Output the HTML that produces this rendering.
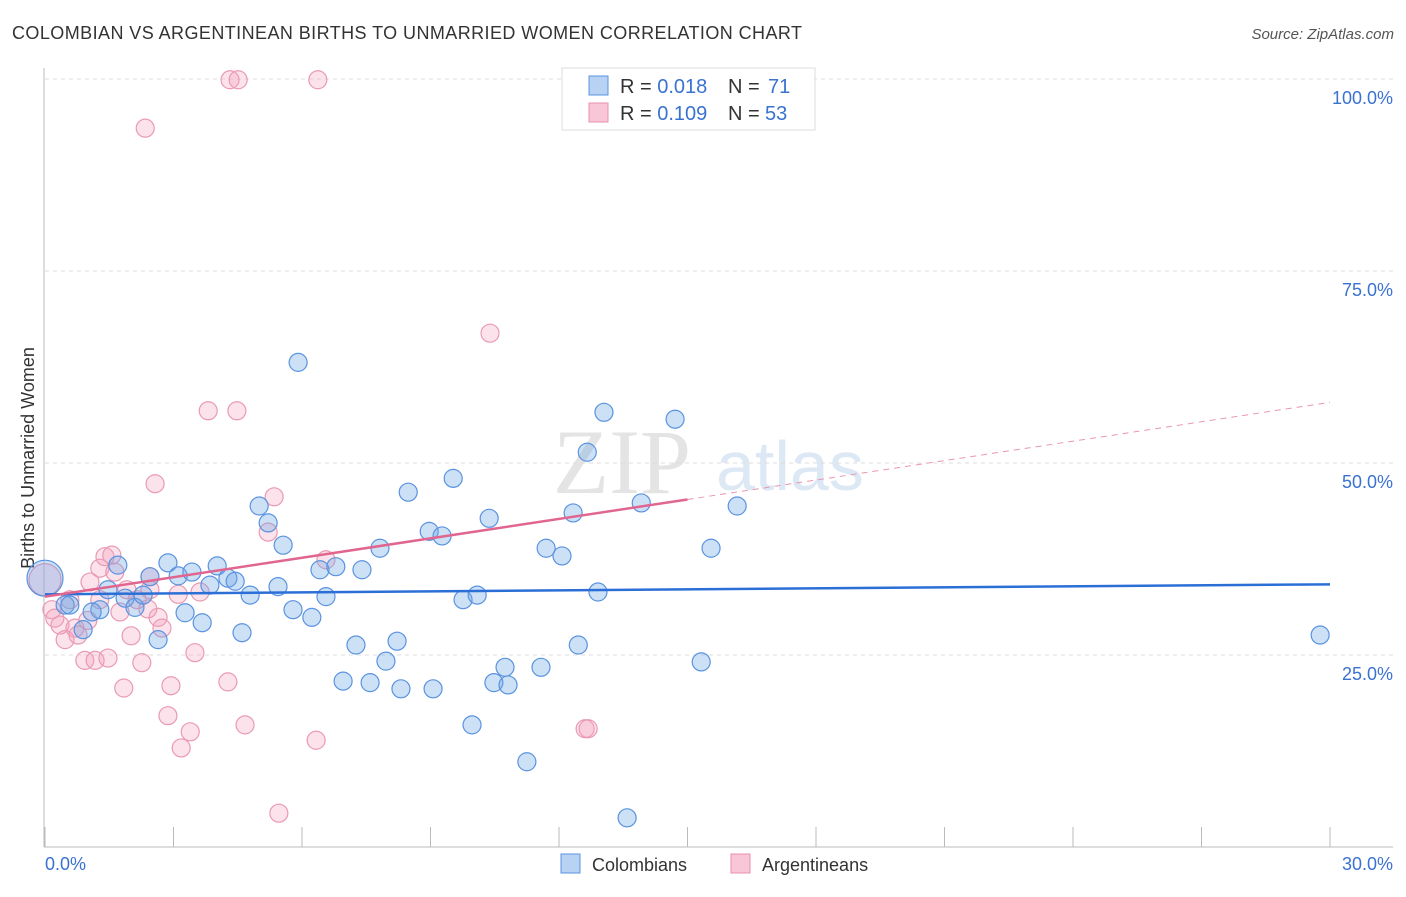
<!DOCTYPE html>
<html><head><meta charset="utf-8"><style>
body{margin:0;background:#fff;font-family:"Liberation Sans",sans-serif;}
</style></head><body>
<svg width="1406" height="892" xmlns="http://www.w3.org/2000/svg">
<text x="12" y="39" font-size="18" fill="#333" textLength="790">COLOMBIAN VS ARGENTINEAN BIRTHS TO UNMARRIED WOMEN CORRELATION CHART</text>
<text x="1394" y="39" font-size="15" fill="#555" text-anchor="end" font-style="italic">Source: ZipAtlas.com</text>
<text x="553" y="493" font-size="92" fill="#e4e4e4" font-family="Liberation Serif,serif">ZIP</text>
<text x="716" y="490" font-size="70" fill="#dde8f5">atlas</text>
<g id="grid"></g>
<line x1="44" y1="68" x2="44" y2="847" stroke="#bbb"/>
<line x1="44" y1="847" x2="1393" y2="847" stroke="#bbb"/>
<text transform="translate(34,458) rotate(-90)" font-size="18" fill="#333" text-anchor="middle">Births to Unmarried Women</text>
<text x="45" y="870" font-size="18" fill="#3a72d0">0.0%</text>
<text x="1393" y="870" font-size="18" fill="#3a72d0" text-anchor="end">30.0%</text>
<g id="pts"></g>
<g id="lines"></g>
<g>
<rect x="562" y="68" width="253" height="62" fill="#fff" stroke="#ddd"/>
<rect x="589" y="76" width="19" height="19" fill="#b8d2f3" stroke="#5a93e0"/>
<rect x="589" y="103" width="19" height="19" fill="#f8c6d6" stroke="#e890ab"/>
<text x="620" y="93" font-size="20" fill="#333">R = <tspan fill="#3a72d0">0.018</tspan></text>
<text x="728" y="93" font-size="20" fill="#333">N = </text>
<text x="768" y="93" font-size="20" fill="#3a72d0">71</text>
<text x="620" y="120" font-size="20" fill="#333">R = <tspan fill="#3a72d0">0.109</tspan></text>
<text x="728" y="120" font-size="20" fill="#333">N = </text>
<text x="765" y="120" font-size="20" fill="#3a72d0">53</text>
</g>
<g>
<rect x="561" y="854" width="19" height="19" fill="#b8d2f3" stroke="#5a93e0"/>
<text x="592" y="871" font-size="18" fill="#333">Colombians</text>
<rect x="731" y="854" width="19" height="19" fill="#f8c6d6" stroke="#e890ab"/>
<text x="762" y="871" font-size="18" fill="#333">Argentineans</text>
</g>
</svg>
<script>
const yTicks=[25,50,75,100];
const yTickLabels=["25.0%","50.0%","75.0%","100.0%"];
const xTicks=[0,3,6,9,12,15,18,21,24,27,30];
const colX=[0,.47,.58,1.28,.89,1.10,1.47,1.70,1.87,2.10,2.29,2.45,2.64,2.87,3.11,3.27,3.43,3.67,3.85,4.02,4.27,4.44,4.60,4.79,5.00,5.21,5.44,5.56,5.79,5.91,6.23,6.42,6.56,6.79,6.96,7.26,7.40,7.59,7.82,7.96,8.22,8.31,8.48,8.97,9.06,9.27,9.53,9.76,9.97,10.09,10.37,10.48,10.74,10.81,11.25,11.58,11.70,12.07,12.33,12.45,12.66,12.91,13.05,13.59,13.92,14.71,15.32,15.55,16.16,29.77];
const colY=[35.0,31.5,31.5,30.9,28.3,30.6,33.5,36.7,32.4,31.2,32.8,35.2,27.0,37.0,35.3,30.5,35.8,29.2,34.1,36.6,35.0,34.6,27.9,32.8,44.4,42.2,33.9,39.3,30.9,63.1,29.9,36.1,32.6,36.5,21.6,26.3,36.1,21.4,38.9,24.2,26.8,20.6,46.2,41.1,20.6,40.5,48.0,32.2,15.9,32.8,42.8,21.4,23.4,21.1,11.1,23.4,38.9,37.9,43.5,26.3,51.4,33.2,56.6,3.8,44.8,55.7,24.1,38.9,44.4,27.6];
const argX=[0,.16,.23,.35,.47,.58,.70,.77,.93,1.05,1.17,1.28,1.40,1.47,1.56,1.63,1.75,1.84,1.91,2.01,2.15,2.26,2.34,2.45,2.45,2.57,2.64,2.73,2.87,2.94,3.11,3.18,3.39,3.50,3.62,3.81,4.27,4.32,4.48,4.51,4.67,5.21,5.35,5.46,6.33,6.37,6.56,10.39,12.61,12.68,1.28,2.40,1.00];
const argY=[34.8,30.9,29.8,28.9,27.0,32.2,28.5,27.6,24.3,34.5,24.3,36.3,37.8,24.6,38.0,35.8,30.6,20.7,33.5,27.5,32.2,24.0,93.6,35.2,33.5,47.3,29.9,28.5,17.1,21.0,32.9,12.9,15.0,25.3,33.2,56.8,21.5,99.9,56.8,99.9,15.9,41.0,45.6,4.4,13.9,99.9,37.4,66.9,15.4,15.4,32.2,31.0,29.5];
const colTrend=[32.9,34.2];
const argTrend=[32.6,57.9];
const X=v=>45+v/30*1285, Y=v=>847-v/100*768;
const NS="http://www.w3.org/2000/svg";
function mk(t,a,p){const e=document.createElementNS(NS,t);for(const k in a)e.setAttribute(k,a[k]);p.appendChild(e);return e;}
const g=document.getElementById('grid');
yTicks.forEach((t,i)=>{
 const l=mk('line',{x1:45,x2:1393,y1:Y(t),y2:Y(t),stroke:'#ddd','stroke-dasharray':'4,4'},g);
 
 
 const tx=mk('text',{x:1393,y:Y(t)+25,'font-size':18,fill:'#3a72d0','text-anchor':'end'},g);
 tx.textContent=yTickLabels[i];
 
 
});
xTicks.forEach(t=>{
 const l=mk('line',{x1:X(t),x2:X(t),y1:827,y2:847,stroke:'#bbb'},g);
 
 
});
const p=document.getElementById('pts');
argX.forEach((x,i)=>{
 const c=mk('circle',{cx:X(x),cy:Y(argY[i]),r:i==0?16:9,fill:'rgba(242,160,188,0.3)',stroke:'#ea9ab3','stroke-width':1.2},p);
 
 
});
colX.forEach((x,i)=>{
 const c=mk('circle',{cx:X(x),cy:Y(colY[i]),r:i==0?18:9,fill:'rgba(110,165,230,0.35)',stroke:'#5a93e0','stroke-width':1.2},p);
 
 
});
const L=document.getElementById('lines');
const b=mk('line',{x1:X(0),y1:Y(colTrend[0]),x2:X(30),y2:Y(colTrend[1]),stroke:'#2b6fd6','stroke-width':2.5},L);


const mid=15, midY=argTrend[0]+(argTrend[1]-argTrend[0])*mid/30;
const a1=mk('line',{x1:X(0),y1:Y(argTrend[0]),x2:X(mid),y2:Y(midY),stroke:'#e06690','stroke-width':2.5},L);


const a2=mk('line',{x1:X(mid),y1:Y(midY),x2:X(30),y2:Y(argTrend[1]),stroke:'#e897b2','stroke-width':1,'stroke-dasharray':'6,5'},L);


</script>
</body></html>
